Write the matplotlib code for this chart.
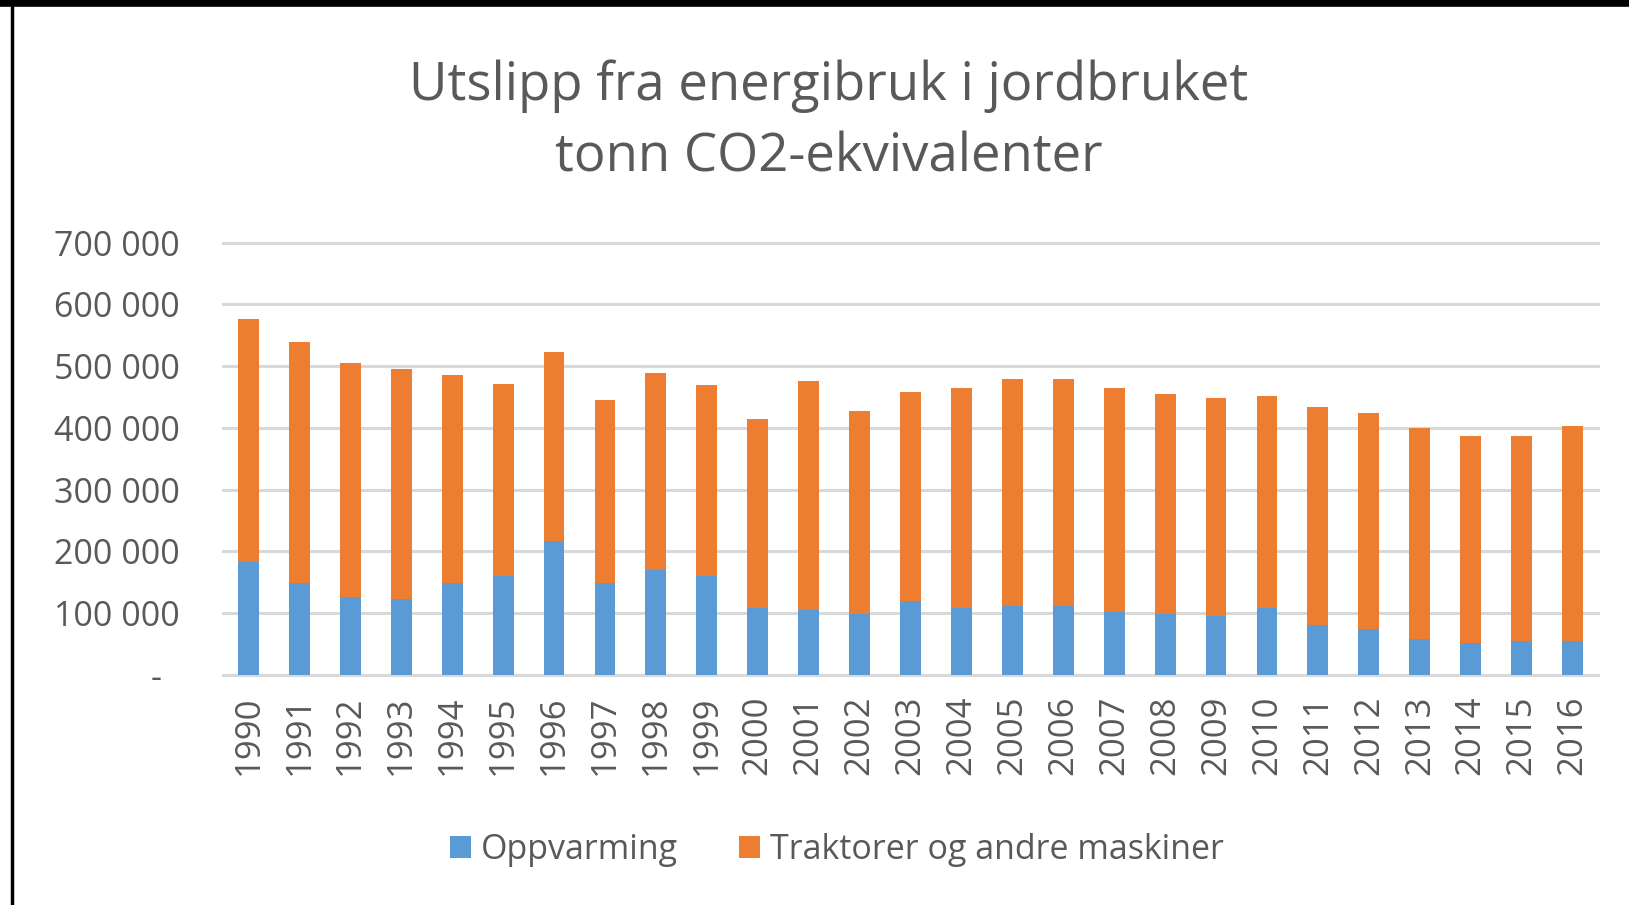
import matplotlib
matplotlib.use("Agg")
import matplotlib.pyplot as plt
from matplotlib.lines import Line2D
from matplotlib.patches import Patch
from matplotlib.ticker import FuncFormatter, MultipleLocator

# Data (tonn CO2-ekvivalenter)
years = [str(y) for y in range(1990, 2017)]
oppvarming = [183500, 149500, 125800, 122500, 149500, 159800, 217500, 149500, 170000,
              159800, 109000, 105800, 98800, 119300, 109000, 112300, 112300, 102000,
              98800, 95500, 109000, 81500, 75000, 57700, 51300, 54500, 54500]
totals = [577000, 539700, 505700, 496000, 485000, 471700, 523000, 444700, 489000,
          469000, 414000, 475500, 428000, 458000, 465000, 478700, 478700, 465000,
          455000, 448000, 451700, 434500, 424700, 400500, 387000, 387000, 403700]
traktorer = [t - o for t, o in zip(totals, oppvarming)]

title_lines = ["Utslipp fra energibruk i jordbruket", "tonn CO2-ekvivalenter"]
series_names = ["Oppvarming", "Traktorer og andre maskiner"]

BLUE = "#5B9BD5"
ORANGE = "#ED7D31"
TEXT = "#595959"
GRID = "#D9D9D9"

plt.rcParams['font.family'] = ['Open Sans', 'DejaVu Sans']

W, H = 1629, 905
fig = plt.figure(figsize=(W / 100, H / 100), dpi=100)
fig.patch.set_facecolor("white")

# Plot area in pixels
left, right, top, bottom = 223, 1598, 242.7, 675
ax = fig.add_axes([left / W, 1 - bottom / H, (right - left) / W, (bottom - top) / H])

x = range(len(years))
ax.bar(x, oppvarming, width=0.41, color=BLUE, zorder=3)
ax.bar(x, traktorer, width=0.41, bottom=oppvarming, color=ORANGE, zorder=3)

ax.set_xlim(-0.5, len(years) - 0.5)
ax.set_ylim(0, 700000)
ax.yaxis.set_major_locator(MultipleLocator(100000))


def fmt(v, pos):
    # Excel accounting format shows zero as a dash
    if v == 0:
        return "-  "
    return f"{int(v):,}".replace(",", " ")


ax.yaxis.set_major_formatter(FuncFormatter(fmt))
ax.grid(axis="y", color=GRID, linewidth=2.2, zorder=0)
for gl in ax.get_ygridlines():
    gl.set_clip_on(False)
ax.set_axisbelow(True)

for side in ["top", "right", "left"]:
    ax.spines[side].set_visible(False)
ax.spines["bottom"].set_color(GRID)
ax.spines["bottom"].set_linewidth(2.2)

ax.set_xticks(list(x))
ax.set_xticklabels(years, rotation=90)
ax.tick_params(axis="x", length=0, pad=15, labelsize=25, labelcolor=TEXT)
ax.tick_params(axis="y", length=0, pad=31, labelsize=24.5, labelcolor=TEXT)

# Title
fig.text(829 / W, 1 - 86 / H, title_lines[0], ha="center", va="center",
         fontsize=38, color=TEXT)
fig.text(829 / W, 1 - 158 / H, title_lines[1], ha="center", va="center",
         fontsize=38, color=TEXT)

# Legend
handles = [Patch(facecolor=BLUE), Patch(facecolor=ORANGE)]
fig.legend(handles, series_names, loc="center", bbox_to_anchor=(837 / W, 1 - 850 / H),
           ncol=2, frameon=False, fontsize=24.5, labelcolor=TEXT,
           handlelength=0.6, handleheight=0.6, handletextpad=0.3, columnspacing=1.8)

# Frame lines around the chart object
fig.add_artist(Line2D([0, 1], [1 - 3.5 / H, 1 - 3.5 / H], color="black", linewidth=5.5,
                      transform=fig.transFigure))
fig.add_artist(Line2D([12 / W, 12 / W], [0, 1], color="black", linewidth=2.5,
                      transform=fig.transFigure))

fig.savefig("out.png", dpi=100)
